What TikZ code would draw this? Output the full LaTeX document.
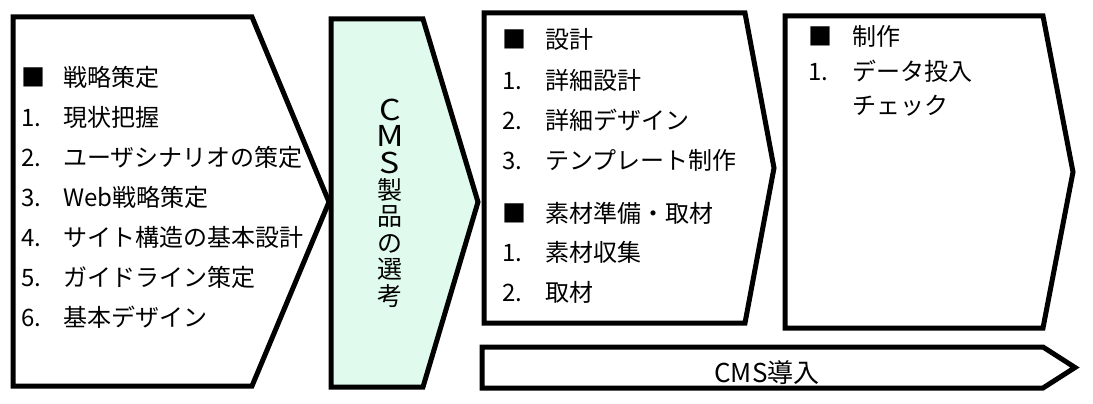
\documentclass[tikz,border=0pt]{standalone}
\usepackage{fontspec}
\setmainfont{Noto Sans CJK JP}
\usetikzlibrary{backgrounds}
\definecolor{selectgreen}{HTML}{E0FAEE}
\newcommand{\wideletter}[1]{\scalebox{1.35}[1.15]{#1}}

\begin{document}
\begin{tikzpicture}[x=1pt, y=-1pt, background rectangle/.style={fill=white}, show background rectangle, inner frame sep=0pt]

  \edef\linegap{40}
  \tikzstyle{stage}=[line width=5pt]
  \tikzstyle{item}=[anchor=base west, inner sep=0pt, font=\fontsize{24}{24}\selectfont]

  \useasboundingbox (0,0) rectangle (1093,404);

  % stage outlines
  \draw[stage] (13,17) -- (252,17) -- (329,202) -- (252,386) -- (13,386) -- cycle;
  \draw[stage, fill=selectgreen] (331,19) -- (423,19) -- (478,202) -- (423,387) -- (331,387) -- cycle;
  \draw[stage] (484,13) -- (745,13) -- (774,168) -- (745,323) -- (484,323) -- cycle;
  \draw[stage] (785,16) -- (1043,16) -- (1073,172) -- (1043,328) -- (785,328) -- cycle;
  \draw[stage] (482,347) -- (1043,347) -- (1075,367.5) -- (1043,388) -- (482,388) -- cycle;

  % strategy
  \foreach \lbl/\txt [count=\i] in {■/戦略策定, 1./現状把握, 2./ユーザシナリオの策定, 3./Web戦略策定, 4./サイト構造の基本設計, 5./ガイドライン策定, 6./基本デザイン}
    {
      \pgfmathsetmacro{\y}{86 + (\i - 1) * \linegap}
      \node[item] (strategy\i) at (21,\y) {\makebox[42pt][l]{\lbl}\txt};
    }

  % product selection
  \node[font=\fontsize{25}{26.4}\selectfont, align=center, inner sep=0pt] (select) at (390,203) {\wideletter{C}\\\wideletter{M}\\\wideletter{S}\\製\\品\\の\\選\\考};

  % design and material
  \foreach \y/\lbl/\txt [count=\i] in {49/■/設計, 89/1./詳細設計, 129/2./詳細デザイン, 169/3./テンプレート制作, 222/■/素材準備・取材, 261/1./素材収集, 301/2./取材}
    {
      \node[item] (design\i) at (502,\y) {\makebox[43pt][l]{\lbl}\txt};
    }

  % production
  \foreach \y/\lbl/\txt [count=\i] in {46/■/制作, 81/1./データ投入, 114//チェック}
    {
      \node[item] (make\i) at (808,\y) {\makebox[44pt][l]{\lbl}\txt};
    }

  % introduction bar
  \node[item, anchor=base, font=\fontsize{26}{26}\selectfont] (intro) at (767,382) {CMS導入};
\end{tikzpicture}
\end{document}
